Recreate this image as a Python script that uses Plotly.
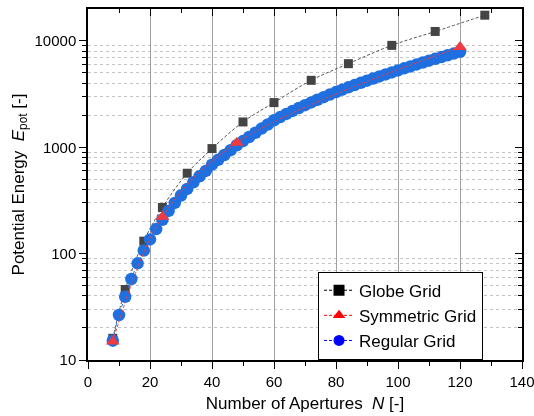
import plotly.graph_objects as go

# ---- data ----
globe_n = [8, 12, 18, 24, 32, 40, 50, 60, 72, 84, 98, 112, 128]
globe_e = [16, 46, 131, 272, 570, 972, 1730, 2630, 4260, 6110, 9080, 12270, 17450]

sym_n = [8, 24, 48, 120]
sym_e = [14.9, 222, 1100, 8750]

reg_n = [8, 10, 12, 14, 16, 18, 20, 22, 24, 26, 28, 30, 32, 34, 36, 38, 40,
         42, 44, 46, 48, 50, 52, 54, 56, 58, 60, 62, 64, 66, 68, 70, 72, 74,
         76, 78, 80, 82, 84, 86, 88, 90, 92, 94, 96, 98, 100, 102, 104, 106,
         108, 110, 112, 114, 116, 118, 120]
reg_e = [15.2, 26.5, 39.3, 57.7, 81, 107, 136, 170, 208, 252, 300, 352, 406,
         469, 534, 599, 686, 762, 846, 939, 1045, 1143, 1250, 1369, 1499, 1638,
         1795, 1923, 2058, 2196, 2340, 2488, 2641, 2798, 2961, 3130, 3304, 3480,
         3660, 3845, 4036, 4230, 4432, 4634, 4845, 5058, 5284, 5520, 5760, 6007,
         6259, 6518, 6780, 7050, 7326, 7606, 7892]

x_ticks = [0, 20, 40, 60, 80, 100, 120, 140]
y_ticks = [10, 100, 1000, 10000]
y_minor = [m * 10 ** k for k in range(1, 5) for m in range(2, 10) if m * 10 ** k <= 20000]

GRAY, RED, BLUE = "#444444", "#ee3a40", "#1f6fe0"
FONT = "Liberation Sans, Arial, sans-serif"

fig = go.Figure()

# transparent copy on the mirrored axes so the top/right frame gets drawn
fig.add_trace(go.Scatter(x=globe_n, y=globe_e, xaxis="x2", yaxis="y2",
                         mode="markers", opacity=0, showlegend=False,
                         hoverinfo="skip"))

fig.add_trace(go.Scatter(
    x=globe_n, y=globe_e, mode="lines+markers", showlegend=False,
    line=dict(color="#555555", width=1, dash="3px,2px", shape="spline"),
    marker=dict(symbol="square", size=9, color=GRAY)))
fig.add_trace(go.Scatter(
    x=reg_n, y=reg_e, mode="lines+markers", showlegend=False,
    line=dict(color=BLUE, width=1, dash="3px,2px", shape="spline"),
    marker=dict(symbol="circle", size=12.5, color=BLUE)))
fig.add_trace(go.Scatter(
    x=sym_n, y=sym_e, mode="lines+markers", showlegend=False,
    line=dict(color=RED, width=1, dash="3px,2px", shape="spline"),
    marker=dict(symbol="triangle-up", size=12, color=RED)))

# legend-only entries
for name, col, sym in [("Globe Grid", "black", "square"),
                       ("Symmetric Grid", "red", "triangle-up"),
                       ("Regular Grid", "blue", "circle")]:
    fig.add_trace(go.Scatter(
        x=[None], y=[None], mode="lines+markers", name=name,
        line=dict(color=col, width=1, dash="3px,2px"),
        marker=dict(symbol=sym, size=11, color=col)))

fig.update_layout(
    width=534, height=416,
    margin=dict(l=88, r=12, t=9, b=56, autoexpand=False),
    paper_bgcolor="white", plot_bgcolor="white",
    font=dict(family=FONT, size=15, color="black"),
    legend=dict(x=0.53, y=0.2516, xanchor="left", yanchor="top",
                bgcolor="white", bordercolor="black", borderwidth=1,
                font=dict(size=17), tracegroupgap=0),
    xaxis=dict(range=[0, 140], tickvals=x_ticks, ticks="outside", ticklen=7,
               tickwidth=1.2, tickcolor="black", showline=True, linecolor="black",
               linewidth=1.5, showgrid=True, gridcolor="#a0a0a0", gridwidth=1.2,
               zeroline=False, ticklabeloverflow="allow", automargin=False,
               minor=dict(dtick=10, tick0=0, ticks="outside", ticklen=4,
                          tickcolor="black", showgrid=False),
               title=dict(text="Number of Apertures  <i>N</i> [-]",
                          font=dict(size=17), standoff=8)),
    yaxis=dict(type="log", range=[1, 4.30], tickvals=y_ticks,
               ticktext=[str(v) for v in y_ticks], ticks="outside", ticklen=7,
               tickwidth=1.2, tickcolor="black", showline=True, linecolor="black",
               linewidth=1.5, showgrid=False, zeroline=False, automargin=False,
               minor=dict(tickmode="array", tickvals=y_minor, ticks="outside",
                          ticklen=4, tickcolor="black", showgrid=True,
                          griddash="dot", gridcolor="#c4c4c4", gridwidth=1),
               title=dict(text="Potential Energy  <i>E</i><sub>pot</sub> [-]",
                          font=dict(size=17), standoff=6)),
    xaxis2=dict(overlaying="x", side="top", anchor="y", range=[0, 140],
                tickvals=x_ticks, ticks="inside", ticklen=7, tickwidth=1.2,
                tickcolor="black", showticklabels=False, showline=True,
                linecolor="black", linewidth=1.5, showgrid=False, zeroline=False,
                automargin=False,
                minor=dict(dtick=10, tick0=0, ticks="inside", ticklen=4,
                           tickcolor="black", showgrid=False)),
    yaxis2=dict(overlaying="y", side="right", anchor="x", type="log",
                range=[1, 4.30], tickvals=y_ticks, ticks="inside", ticklen=7,
                tickwidth=1.2, tickcolor="black", showticklabels=False,
                showline=True, linecolor="black", linewidth=1.5, showgrid=False,
                zeroline=False, automargin=False,
                minor=dict(tickmode="array", tickvals=y_minor, ticks="inside",
                           ticklen=4, tickcolor="black", showgrid=False)),
)

fig.write_html("out.html")
